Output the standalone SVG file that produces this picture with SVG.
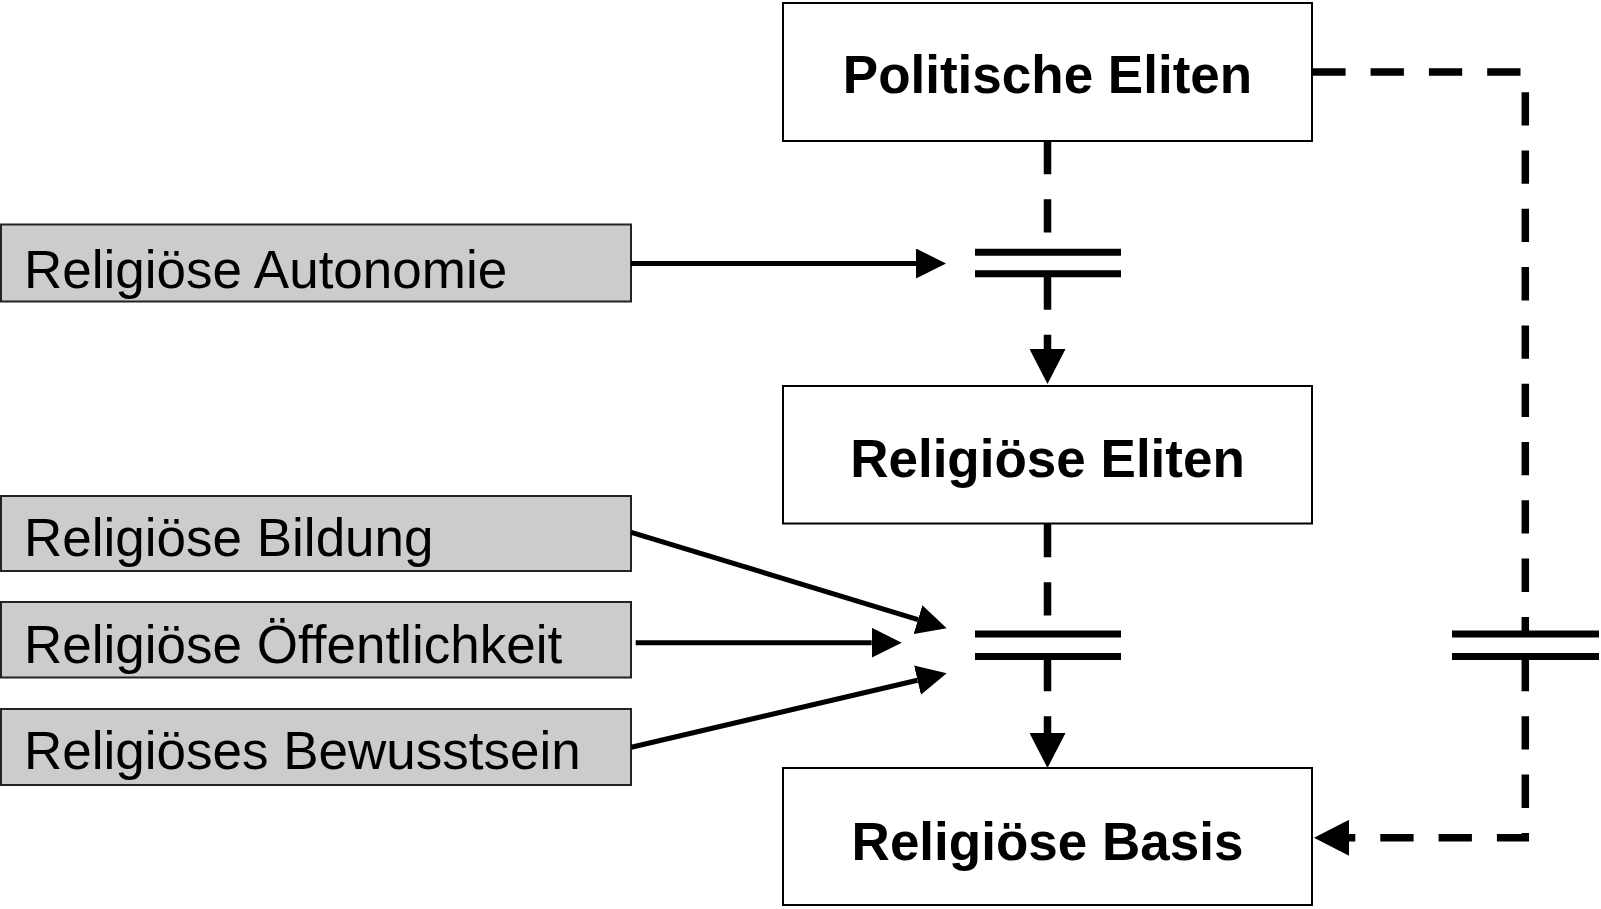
<svg xmlns="http://www.w3.org/2000/svg" width="1601" height="909" viewBox="0 0 1601 909">
<style>
.main rect{fill:#fff;stroke:#000;stroke-width:2}
.side rect{fill:#cccccc;stroke:#222;stroke-width:2}
.bold{font-family:"Liberation Sans",Arial,sans-serif;font-weight:bold;font-size:53px;text-anchor:middle;fill:#000}
.reg{font-family:"Liberation Sans",Arial,sans-serif;font-size:53px;fill:#000}
.solid{fill:none;stroke:#000;stroke-width:5}
.dash{fill:none;stroke:#000;stroke-width:7.5;stroke-dasharray:33.3 25;stroke-linejoin:miter}
.bar{stroke:#000;stroke-width:7;fill:none}
</style>
<defs>
<marker id="arrS" markerUnits="userSpaceOnUse" markerWidth="30" markerHeight="30" viewBox="0 0 30 30" refX="0" refY="15" orient="auto">
<path d="M0,0 L30,15 L0,30 Z" fill="#000"/>
</marker>
<marker id="arrD" markerUnits="userSpaceOnUse" markerWidth="36" markerHeight="36" viewBox="0 0 36 36" refX="0" refY="18" orient="auto">
<path d="M0,0 L35,18 L0,36 Z" fill="#000"/>
</marker>
</defs>

<g id="politische-eliten" class="main">
<rect x="783" y="3" width="529" height="138"/>
<text class="bold" x="1047.5" y="93">Politische Eliten</text>
</g>
<g id="religioese-eliten" class="main">
<rect x="783" y="386" width="529" height="137.5"/>
<text class="bold" x="1047.5" y="477">Religiöse Eliten</text>
</g>
<g id="religioese-basis" class="main">
<rect x="783" y="768" width="529" height="137"/>
<text class="bold" x="1047.5" y="860">Religiöse Basis</text>
</g>

<g id="religioese-autonomie" class="side">
<rect x="1" y="224.5" width="630" height="77"/>
<text class="reg" x="24" y="288">Religiöse Autonomie</text>
</g>
<g id="religioese-bildung" class="side">
<rect x="1" y="496" width="630" height="75"/>
<text class="reg" x="24" y="556">Religiöse Bildung</text>
</g>
<g id="religioese-oeffentlichkeit" class="side">
<rect x="1" y="602" width="630" height="75.5"/>
<text class="reg" x="24" y="663">Religiöse Öffentlichkeit</text>
</g>
<g id="religioeses-bewusstsein" class="side">
<rect x="1" y="709" width="630" height="76"/>
<text class="reg" x="24" y="769">Religiöses Bewusstsein</text>
</g>

<g id="connectors">
<path class="solid" d="M631,263.5 H916" marker-end="url(#arrS)"/>
<path class="solid" d="M631.3,532.3 L918,619.6" marker-end="url(#arrS)"/>
<path class="solid" d="M635.7,642.7 H871.7" marker-end="url(#arrS)"/>
<path class="solid" d="M631.3,747.3 L917.5,680.2" marker-end="url(#arrS)"/>

<path class="dash" d="M1047.5,141 V252"/>
<path class="dash" d="M1047.5,276.5 V349" marker-end="url(#arrD)"/>
<path class="dash" d="M1047.5,524 V634"/>
<path class="dash" d="M1047.5,658 V733" marker-end="url(#arrD)"/>

<path class="dash" d="M1312.3,72 H1525.3 V634"/>
<path class="dash" d="M1525.3,658 V837.8 H1349" marker-end="url(#arrD)"/>

<g id="bar-1">
<path class="bar" d="M975,252.2 H1121 M975,273.8 H1121"/>
</g>
<g id="bar-2">
<path class="bar" d="M975,634 H1121 M975,656.5 H1121"/>
</g>
<g id="bar-3">
<path class="bar" d="M1452,634 H1599 M1452,656.5 H1599"/>
</g>
</g>
</svg>
